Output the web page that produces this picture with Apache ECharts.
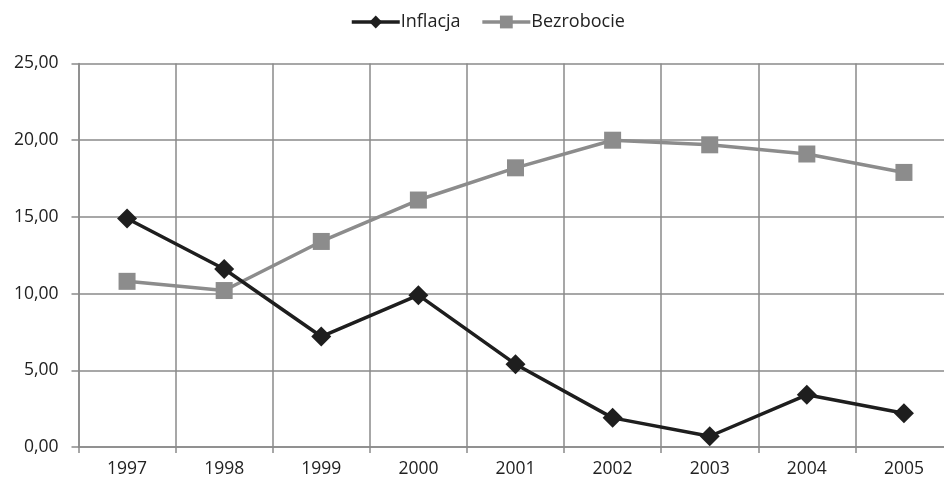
<!DOCTYPE html>
<html>
<head>
<meta charset="utf-8">
<script src="https://cdn.jsdelivr.net/npm/echarts@6/dist/echarts.min.js"></script>
<style>
  html, body { margin: 0; padding: 0; background: #fff; overflow: hidden; }
  #chart { width: 960px; height: 483px; }
</style>
</head>
<body>
<div id="chart"></div>
<script>
const years = ['1997', '1998', '1999', '2000', '2001', '2002', '2003', '2004', '2005']
const inflacja = [14.9, 11.6, 7.2, 9.9, 5.4, 1.9, 0.7, 3.4, 2.2]
const bezrobocie = [10.8, 10.2, 13.4, 16.1, 18.2, 20.0, 19.7, 19.1, 17.9]

const gridColor = '#8a8a8a'
const font = '"Open Sans", "Noto Sans", sans-serif'

const chart = echarts.init(document.getElementById('chart'))

chart.setOption({
  animation: false,
  backgroundColor: '#fff',
  textStyle: { fontFamily: font },
  legend: {
    top: 8,
    left: 345,
    itemWidth: 48,
    itemHeight: 16,
    itemGap: 20,
    lineStyle: { width: 3.5 },
    textStyle: { fontSize: 18, color: '#222', fontFamily: font, padding: [0, 0, 0, -4] },
    data: ['Inflacja', 'Bezrobocie']
  },
  grid: { left: 78.5, right: 7.5, top: 63.5, bottom: 36 },
  xAxis: {
    type: 'category',
    data: years,
    boundaryGap: true,
    axisLine: { lineStyle: { color: gridColor, width: 1.5 } },
    axisTick: { show: true, length: 6, lineStyle: { color: gridColor, width: 1.5 } },
    axisLabel: { color: '#222', fontSize: 17.5, margin: 13, fontFamily: font },
    splitLine: { show: true, lineStyle: { color: gridColor, width: 1.5 } }
  },
  yAxis: {
    type: 'value',
    min: 0,
    max: 25,
    interval: 5,
    axisLine: { show: true, lineStyle: { color: gridColor, width: 1.5 } },
    axisTick: { show: true, length: 7, lineStyle: { color: gridColor, width: 1.5 } },
    axisLabel: {
      color: '#222',
      fontSize: 17.5,
      margin: 20,
      fontFamily: font,
      formatter: v => v.toFixed(2).replace('.', ',')
    },
    splitLine: { show: true, lineStyle: { color: gridColor, width: 1.5 } }
  },
  series: [
    {
      name: 'Inflacja',
      type: 'line',
      data: inflacja,
      symbol: 'diamond',
      symbolSize: 20,
      itemStyle: { color: '#1e1e1e' },
      lineStyle: { color: '#1e1e1e', width: 3.5 },
      z: 3
    },
    {
      name: 'Bezrobocie',
      type: 'line',
      data: bezrobocie,
      symbol: 'rect',
      symbolSize: 17,
      itemStyle: { color: '#8c8c8c' },
      lineStyle: { color: '#8c8c8c', width: 3.5 },
      z: 2
    }
  ]
})
</script>
</body>
</html>
